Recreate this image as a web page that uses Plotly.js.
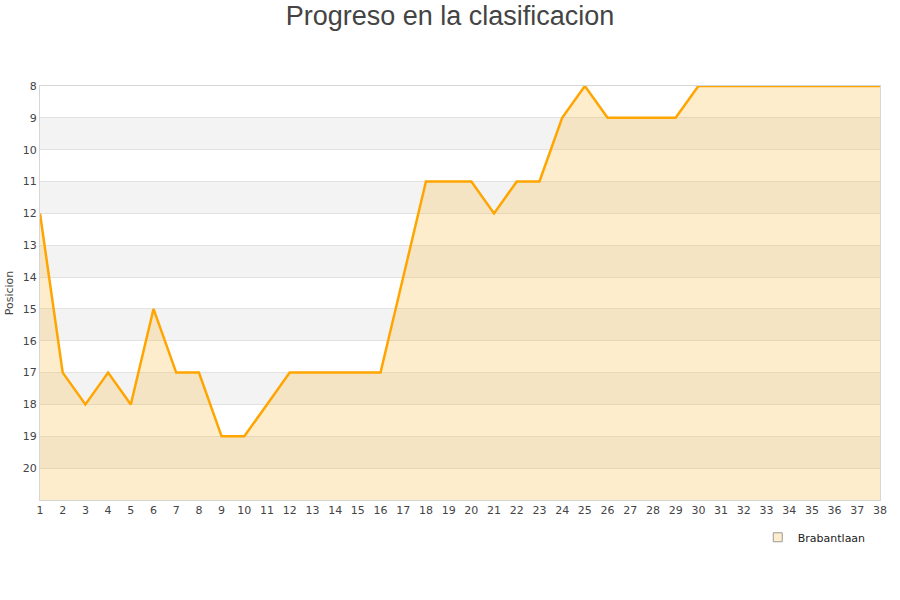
<!DOCTYPE html>
<html>
<head>
<meta charset="utf-8">
<script src="https://cdn.plot.ly/plotly-3.0.1.min.js"></script>
<style>html,body{margin:0;padding:0;background:#fff;}#chart{width:900px;height:600px;}</style>
</head>
<body>
<div id="chart"></div>
<script>
const jornadas = [1,2,3,4,5,6,7,8,9,10,11,12,13,14,15,16,17,18,19,20,21,22,23,24,25,26,27,28,29,30,31,32,33,34,35,36,37,38];
const posiciones = [12,17,18,17,18,15,17,17,19,19,18,17,17,17,17,17,14,11,11,11,12,11,11,9,8,9,9,9,9,8,8,8,8,8,8,8,8,8];
const equipo = "Brabantlaan";
const yTicks = [8,9,10,11,12,13,14,15,16,17,18,19,20];
const bandas = [[9,10],[11,12],[13,14],[15,16],[17,18],[19,20]];
const fondo = 21;

const shapes = bandas.map(b => ({
  type:'rect', xref:'paper', yref:'y', x0:0, x1:1, y0:b[0], y1:b[1],
  fillcolor:'#f3f3f3', line:{width:0}, layer:'below'
}));

const traces = [
  {x: jornadas, y: jornadas.map(() => fondo), mode:'lines', line:{width:0, color:'rgba(0,0,0,0)'}, showlegend:false, hoverinfo:'skip'},
  {x: jornadas, y: posiciones, mode:'lines', fill:'tonexty', fillcolor:'rgba(251,183,51,0.25)',
   line:{color:'#ffa500', width:2.5}, showlegend:false, name:equipo},
  {x:[null], y:[null], mode:'markers', name:equipo,
   marker:{symbol:'square', size:9, color:'#feedcc', line:{color:'#999', width:1}}}
];

const layout = {
  width:900, height:600,
  margin:{l:40, r:20, t:86, b:100},
  paper_bgcolor:'#fff', plot_bgcolor:'#fff',
  title:{text:'Progreso en la clasificacion', x:0.5, xanchor:'center', y:0.974, yanchor:'middle',
         font:{family:'Liberation Sans, Arial, sans-serif', size:27, color:'#444'}},
  font:{family:'DejaVu Sans, sans-serif', color:'#444', size:11},
  xaxis:{range:[1,38], tickvals:jornadas, ticktext:jornadas.map(String), showgrid:false, zeroline:false,
         showline:true, linecolor:'#d6d6d6', linewidth:1, mirror:true, ticks:'', tickfont:{size:11, color:'#444'}},
  yaxis:{range:[fondo,8], tickvals:yTicks, ticktext:yTicks.map(String), showgrid:true, gridcolor:'#e2e2e2',
         zeroline:false, showline:true, linecolor:'#d6d6d6', linewidth:1, mirror:true, ticks:'',
         tickfont:{size:11, color:'#444'}, title:{text:'Posicion', font:{size:11, color:'#444'}, standoff:6}},
  shapes: shapes,
  showlegend:true,
  legend:{x:0.989, xanchor:'right', y:-0.055, yanchor:'top', orientation:'h', font:{size:11, color:'#222'}, bgcolor:'rgba(0,0,0,0)'}
};

Plotly.newPlot('chart', traces, layout, {displayModeBar:false, staticPlot:true});
</script>
</body>
</html>
